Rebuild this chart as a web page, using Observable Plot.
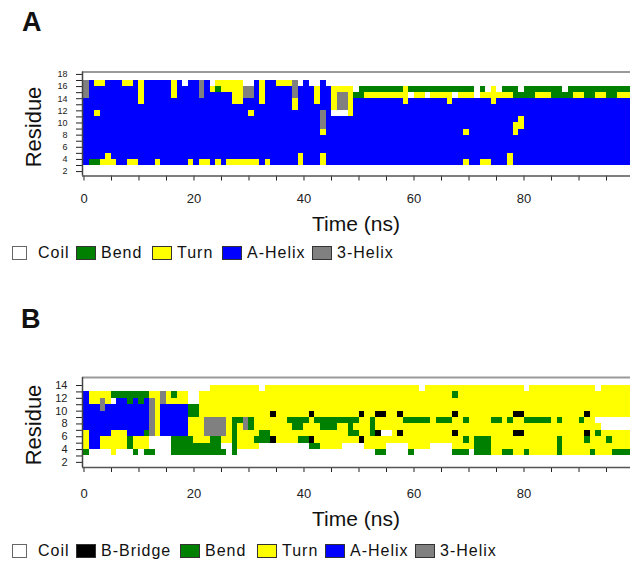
<!DOCTYPE html>
<html><head><meta charset="utf-8">
<script src="https://cdn.jsdelivr.net/npm/d3@7"></script>
<script src="https://cdn.jsdelivr.net/npm/@observablehq/plot@0.6"></script>
<style>
body{margin:0;background:#fff;font-family:"Liberation Sans",Arial,sans-serif;}
#wrap{position:relative;width:630px;height:562px;overflow:hidden;background:#fff;}
.abs{position:absolute;white-space:nowrap;color:#111;}
.plbl{font-weight:bold;font-size:27px;line-height:27px;}
.ylab{font-size:22px;line-height:22px;transform:translate(-50%,-50%) rotate(-90deg);}
.xlab{font-size:21px;line-height:21px;transform:translateX(-50%);}
.leg{font-size:16px;line-height:16px;letter-spacing:1px;}
.sw{position:absolute;height:14px;border:1px solid #333;box-sizing:border-box;}
.chart{position:absolute;left:0;}
#chartA g[aria-label^="y-axis"] text{font-size:9px;}
#chartB g[aria-label^="y-axis"] text{font-size:11px;}
</style></head>
<body><div id="wrap"></div>
<script>
// ---- data ----
const stateCodes = [".", "B", "S", "T", "H", "G"];
const stateNames = ["Coil", "B-Bridge", "Bend", "Turn", "A-Helix", "3-Helix"];
const stateColors = ["#ffffff", "#000000", "#008000", "#ffff00", "#0000ff", "#808080"];
const frameStepNs = 1;
const xTicks = [0,5,10,15,20,25,30,35,40,45,50,55,60,65,70,75,80,85,90,95];
const xTickLabels = [0,20,40,60,80];

// Panel A: residues (top to bottom) and DSSP state per 1-ns frame
const residuesA = [16,15,14,13,12,11,10,9,8,7,6,5,4,3];
const rowsA = [
"GHTTHHHTTH THHHHHTH.H HGH.TTTTT. .HTHHTTTG. H..H...... .......... .......... .......... .......... ..........",
"GHHHHHHHHH THHHHHTHHH HGHTSTTTTG GHTHHHHHGH HHTHHTTTT. SSSSSSSSTS SSSSSSSSSS S.S.T.SSS. SSSSSSS.SS SSSSSSSSSS",
"GHHHHHHHHH THHHHHTHHH HGHHHHHTTG GHTHHHHHGH HHTHHTGGTS STTTTTTTT. TT.TTTT.TT T.TTTTTTSS SSTTTSSSST TSSTTSSTTT",
"HHHHHHHHHH THHHHHHHHH HHHHHHHTTH HHTHHHHHTH HHTHHTGGTH HHHHHHHHTH HHHHHHTHHH HHHHTHHHHH HHHHHHHHHH HHHHHHHHHH",
"HHHHHHHHHH HHHHHHHHHH HHHHHHHHHH HHHHHHHHTH HHHHHTGGTH HHHHHHHHHH HHHHHHHHHH HHHHHHHHHH HHHHHHHHHH HHHHHHHHHH",
"HHTHHHHHHH HHHHHHHHHH HHHHHHHHHH THHHHHHHHH HHHGH...TH HHHHHHHHHH HHHHHHHHHH HHHHHHHHHH HHHHHHHHHH HHHHHHHHHH",
"HHHHHHHHHH HHHHHHHHHH HHHHHHHHHH HHHHHHHHHH HHHGHHHHHH HHHHHHHHHH HHHHHHHHHH HHHHHHHHHT HHHHHHHHHH HHHHHHHHHH",
"HHHHHHHHHH HHHHHHHHHH HHHHHHHHHH HHHHHHHHHH HHHGHHHHHH HHHHHHHHHH HHHHHHHHHH HHHHHHHHTT HHHHHHHHHH HHHHHHHHHH",
"HHHHHHHHHH HHHHHHHHHH HHHHHHHHHH HHHHHHHHHH HHHTHHHHHH HHHHHHHHHH HHHHHHHHHT HHHHHHHHTH HHHHHHHHHH HHHHHHHHHH",
"HHHHHHHHHH HHHHHHHHHH HHHHHHHHHH HHHHHHHHHH HHHHHHHHHH HHHHHHHHHH HHHHHHHHHH HHHHHHHHHH HHHHHHHHHH HHHHHHHHHH",
"HHHHHHHHHH HHHHHHHHHH HHHHHHHHHH HHHHHHHHHH HHHHHHHHHH HHHHHHHHHH HHHHHHHHHH HHHHHHHHHH HHHHHHHHHH HHHHHHHHHH",
"HHHHHHHHHH HHHHHHHHHH HHHHHHHHHH HHHHHHHHHH HHHHHHHHHH HHHHHHHHHH HHHHHHHHHH HHHHHHHHHH HHHHHHHHHH HHHHHHHHHH",
"HHHHTHHHHH HHHHHHHHHH HHHHHHHHHH HHHHHHHHHT HHHTHHHHHH HHHHHHHHHH HHHHHHHHHH HHHHHHHTHH HHHHHHHHHH HHHHHHHHHH",
"HSSTTTHHTT HHHTHHHHHT HTTHTHTTTT TTHTHHHHHT HHHTHHHHHH HHHHHHHHHH HHHHHHHHHT HHTTHHHTHH HHHHHHHHHH HHHHHHHHHH"
];
const yTicksA = [2,3,4,5,6,7,8,9,10,11,12,13,14,15,16,17,18];

// Panel B
const residuesB = [13,12,11,10,9,8,7,6,5,4,3];
const rowsB = [
"..........  .......... ...TTTTTTT TT.TTTTTTT TTTTTTTTTT TTTTTTTTTT T.TTTTTTTT TTTTTTTTTT .TTTTTTTTT TTT.TTTTTT",
"HTTTTSSSSS SSTTGTSTT. .TTTTTTTTT TTTTTTTTTT TTTTTTTTTT TTTTTTTTTT TTTTTTTSTT TTTTTTTTTT TTTTTTTTTT TTTTTTTTTT",
"HTTGT.HHSH SHGTGTTTT. .TTTTTTTTT TTTTTTTTTT TTTTTTTTTT TTTTTTTTTT TTTTTTTTTT TTTTTTTTTT TTTTTTTTTT TTTTTTTTTT",
"HHHGHHHHHH HHGTHHHHHS STTTTTTTTT TTTTTTTTTT TTTTTTTTTT TTTTTTTTTT TTTTTTTTTT TTTTTTTTTT TTTTTTTTTT TTTTTTTTTT",
"HHHHHHHHHH HHGTHHHHHS STTTTTTTTT TTTTBTTTTT TBTTTTTTTT BTTBBTTBTT TTTTTTTBTT TTTTTTTTBB TTTTTTTTTT TBTTTTTTTT",
"HHHHHHHHHH HHGTHHHHHT TTGGGGTSSG STTTTTTSSS STSSSSSSSS TTSTTTTTSS SSSTSSSTTS TTTTSSTSTT SSSSSTSTTT STT.......",
"HHHHHHHHHH HHGTHHHHHT TTGGGGTSTG STTTTTTTSS TTTSSSTTST TTSTTTTTTT TTTTTTTTTT TTTTTTTTTT TTTTTTTTTT TTTT......",
"THHHHTTTHH HSGTHHHHHT TTGGGGTSTT TTSSTTTTTT TTTTTTTTSS TTSB..TBTT TTTTTTTBTT TTTTTTTTBB TTTTTTTTTT TBTSTTTTTT",
"THHTTTTTST TT....SSSS TTTSSTTSTT TSSSBTTTTS SBTTTTTTTT BTTTTTTTTT TTTTTTTTTS TSSSTTTTTT TTTTTTSTTT TSTTTSTTTT",
"THHTTTTTST TT....SSSS SSSSS..STT TT........ .SSTTTT... .TTTT....T TTT....TTT TSSSTTTTTT TTTTTTSTTT TTTTTTTTTT",
"S....T...S .SS...SSSS SSSSSS.S.. .......... .......... ...SS....S .......SSS .SSSTTSSTT STTTTTSTTT TTSTTTSSSS"
];
const yTicksB = [2,3,4,5,6,7,8,9,10,11,12,13,14];

// ---- build ----
function cellsFrom(rows, residues) {
  const out = [];
  rows.forEach((row, i) => {
    const s = row.replace(/ /g, "");
    for (let j = 0; j < s.length; j++) {
      if (s[j] === ".") continue;
      out.push({t0: j * frameStepNs, t1: (j + 1) * frameStepNs, r0: residues[i], r1: residues[i] + 1, state: s[j]});
    }
  });
  return out;
}

const wrap = document.getElementById("wrap");
function addDiv(cls, text, style) {
  const d = document.createElement("div");
  d.className = "abs " + cls;
  d.textContent = text;
  Object.assign(d.style, style);
  wrap.appendChild(d);
  return d;
}

function panel(id, cells, yDomain, yTicks, top, height, mTop, mBottom, xPad) {
  const xDomain = [-0.27, 99.36];
  const p = Plot.plot({
    width: 630, height, marginLeft: 82, marginRight: 0, marginTop: mTop, marginBottom: mBottom,
    style: {fontFamily: "'Liberation Sans', Arial, sans-serif", fontSize: "13px", color: "#222", background: "transparent"},
    x: {domain: xDomain, ticks: xTicks, tickFormat: d => xTickLabels.includes(d) ? String(d) : "", tickSize: 5, tickPadding: xPad, label: null},
    y: {domain: yDomain, ticks: yTicks, tickFormat: d => d % 2 === 0 ? String(d) : "", tickSize: 6, tickPadding: 9, label: null},
    color: {type: "ordinal", domain: stateCodes, range: stateColors},
    marks: [
      Plot.rect(cells, {x1: "t0", x2: "t1", y1: "r0", y2: "r1", fill: "state", shapeRendering: "crispEdges"}),
      Plot.ruleY([yDomain[1]], {stroke: "#9a9a9a", strokeWidth: 2}),
      Plot.ruleY([yDomain[0]], {stroke: "#555", strokeWidth: 1.5}),
      Plot.ruleX([xDomain[0]], {stroke: "#444", strokeWidth: 1.5})
    ]
  });
  const holder = document.createElement("div");
  holder.id = id;
  holder.className = "chart";
  holder.style.top = top + "px";
  holder.appendChild(p);
  wrap.appendChild(holder);
}

panel("chartA", cellsFrom(rowsA, residuesA), [1.27, 18.4], yTicksA, 60, 180, 11.5, 64.5, 13);
panel("chartB", cellsFrom(rowsB, residuesB), [1.2, 15.25], yTicksB, 362, 170, 15, 65, 16);

// titles
addDiv("plbl", "A", {left: "22px", top: "9px"});
addDiv("plbl", "B", {left: "21px", top: "306px"});
addDiv("ylab", "Residue", {left: "34px", top: "127px"});
addDiv("ylab", "Residue", {left: "34px", top: "425px"});
addDiv("xlab", "Time (ns)", {left: "356px", top: "213px"});
addDiv("xlab", "Time (ns)", {left: "356px", top: "508px"});

// legends
const legendA = ["Coil", "Bend", "Turn", "A-Helix", "3-Helix"];
const legendB = ["Coil", "B-Bridge", "Bend", "Turn", "A-Helix", "3-Helix"];
function legend(items, boxX, boxW, textX, top) {
  items.forEach((name, i) => {
    const c = stateColors[stateNames.indexOf(name)];
    const sw = document.createElement("div");
    sw.className = "sw";
    Object.assign(sw.style, {left: boxX[i] + "px", top: (top + 1) + "px", width: boxW[i] + "px", background: c, borderColor: name === "Coil" ? "#666" : "#333"});
    wrap.appendChild(sw);
    addDiv("leg", name, {left: textX[i] + "px", top: top + "px"});
  });
}
legend(legendA, [12, 76, 152, 222, 312], [15, 20, 20, 20, 20], [38, 101, 177, 247, 337], 245);
legend(legendB, [12, 76, 180, 257, 325, 415], [15, 20, 20, 20, 20, 20], [38, 101, 205, 282, 350, 440], 543);
</script></body></html>
